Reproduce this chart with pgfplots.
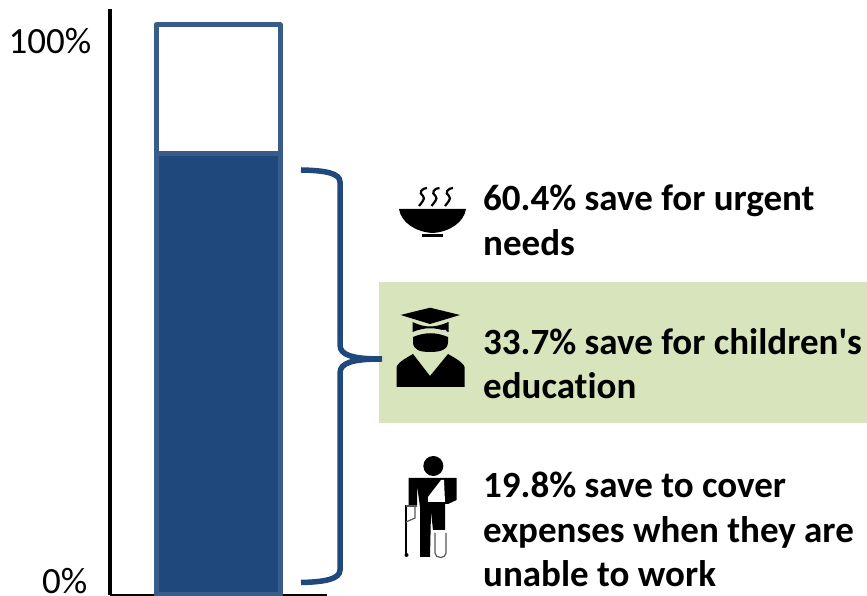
\documentclass[border=0pt]{standalone}
\usepackage{fontspec}
\setmainfont{Carlito}[Ligatures={NoCommon}]
\usepackage{pgfplots}
\pgfplotsset{compat=1.18}
\definecolor{barfill}{HTML}{1F497D}
\definecolor{barline}{HTML}{385D8A}
\definecolor{panel}{HTML}{D8E4BC}
\newcommand{\labelfont}{\fontsize{37}{44}\selectfont\bfseries}
\begin{document}
\begin{tikzpicture}[x=1pt,y=1pt]
\path[use as bounding box] (0,0) rectangle (867,596);

% highlighted band behind the second reason
\fill[panel] (379,173) rectangle (867,314);

% share of savers: a single stacked bar
\begin{axis}[
  at={(109.5pt,1pt)}, anchor=south west,
  scale only axis, width=217.5pt, height=586pt,
  xmin=-0.5, xmax=0.5, ymin=0, ymax=102.8,
  axis lines=left, axis line style={-},
  x axis line style={line width=2pt,black},
  y axis line style={line width=4pt,black},
  xtick=\empty,
  ytick={0,100},
  yticklabels={\raisebox{1pt}[0pt][0pt]{0\%\hspace*{4pt}},\raisebox{-29pt}[0pt][0pt]{100\%}},
  major tick length=0pt,
  yticklabel style={font=\fontsize{37}{44}\selectfont,inner sep=0pt,xshift=-18pt},
  ybar stacked, bar width=124pt,
  clip=false,
]
\addplot[fill=barfill,draw=barline,line width=5pt,line join=round] coordinates {(0,77.5)};
\addplot[fill=white,draw=barline,line width=5pt,line join=round] coordinates {(0,22.5)};
\end{axis}

% everything below is laid out with y measured downward from the top edge
\begin{scope}[y=-1pt,yshift=596pt]
  % brace grouping the reasons
  \draw[barfill,line width=5.5pt]
    (301,170) .. controls (325,170.5) and (340,173) .. (340,182)
    -- (340,345) .. controls (340,355) and (352,359) .. (382,359)
    .. controls (352,359) and (340,363) .. (340,373)
    -- (340,570) .. controls (340,579) and (325,582) .. (301,582.5);

  % bowl
  \fill (399,209) -- (466,209) .. controls (464,222) and (450,232) .. (432.5,233)
        .. controls (415,232) and (401,222) .. (399,209) -- cycle;
  \fill (421.7,234) rectangle (442.7,237.5);
  \foreach \dx in {0,12.5,26}{
    \draw[line width=2.2pt,xshift=\dx pt]
      (427,188) .. controls (422,188) and (418,193) .. (423,196)
      .. controls (426,199) and (421,203) .. (419,206);
  }

  % graduate
  \fill (400.7,315) -- (430,307.7) -- (460,315) -- (430,324) -- cycle;
  \fill (412.5,322) .. controls (425,328) and (435,328) .. (448.5,322)
        -- (448.5,332) .. controls (435,327) and (425,327) .. (412.5,332) -- cycle;
  \fill (413,337) .. controls (425,332) and (436,332) .. (448,337)
        -- (448,342) .. controls (448,350) and (440,352) .. (430,352)
        .. controls (420,352) and (413,350) .. (413,342) -- cycle;
  \fill (396.5,387) -- (396.5,367) .. controls (398,362) and (408,357) .. (413,354)
        -- (430,376) -- (448,354) .. controls (453,357) and (463,362) .. (464.5,367)
        -- (464.5,387) -- cycle;
  \fill[gray!30] (441,330) -- (446,330) -- (447,333.5) -- (440,333.5) -- cycle;

  % person in a sling and a leg cast, on a crutch
  \fill (433.3,466) circle (10);
  \fill (408.5,478) -- (456.7,478) -- (456.7,500) -- (448,504) -- (445,504)
        -- (445,530) -- (433,530) -- (431,512) -- (430,557) -- (420,557) -- (420,507)
        -- (417,485) -- (417,505) -- (408.5,505) -- cycle;
  \fill[white] (428,497) -- (441,480) -- (444,480) -- (445,502) -- (428,502) -- cycle;
  \draw[line width=1.2pt,gray!70!black] (435,533) -- (435,553)
        .. controls (435,559) and (446,559) .. (446,553) -- (446,533);
  \draw[line width=2.2pt] (406,505) -- (406,555);
  \draw[line width=1.2pt,gray!70!black] (415,506) -- (415,518) -- (406,522);
  \draw[line width=1.6pt,gray!70!black] (406,506) -- (417,506);
  \fill (406.5,555) circle (2);

  % reasons
  \foreach \yy/\txt in {
    210.5/{60.4\% save for urgent},
    255.5/{needs},
    354.5/{33.7\% save for children\textquotesingle s},
    398.5/{education},
    497.5/{19.8\% save to cover},
    542.5/{expenses when they are},
    586.5/{unable to work}}{
    \node[anchor=base west,inner sep=0pt,font=\labelfont] at (483,\yy) {\txt};
  }
\end{scope}
\end{tikzpicture}
\end{document}
